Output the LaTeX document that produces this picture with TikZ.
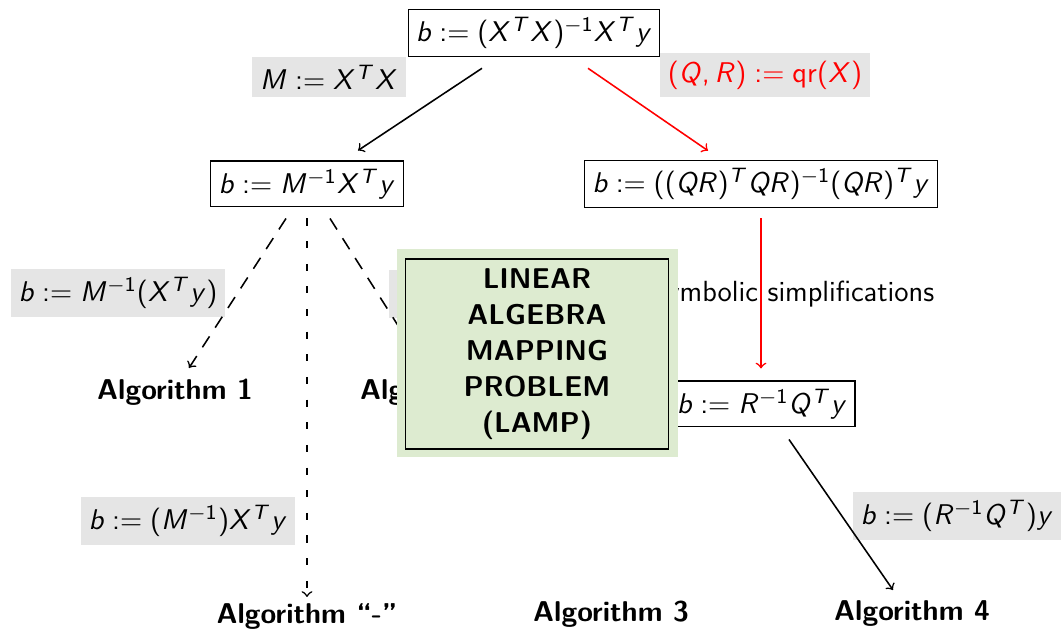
\documentclass[tikz,border=0pt]{standalone}
\usetikzlibrary{calc}
\DeclareSymbolFont{sfletters}{OT1}{cmss}{m}{sl}
\DeclareSymbolFont{sfupright}{OT1}{cmss}{m}{n}
\makeatletter
\count@=`a
\loop \mathcode\count@=\numexpr"7000+\symsfletters*256+\count@\relax
  \ifnum\count@<`z \advance\count@ 1 \repeat
\count@=`A
\loop \mathcode\count@=\numexpr"7000+\symsfletters*256+\count@\relax
  \ifnum\count@<`Z \advance\count@ 1 \repeat
\count@=`0
\loop \mathcode\count@=\numexpr"7000+\symsfupright*256+\count@\relax
  \ifnum\count@<`9 \advance\count@ 1 \repeat
\mathcode`(=\numexpr"4000+\symsfupright*256+`(\relax
\mathcode`)=\numexpr"5000+\symsfupright*256+`)\relax
\mathcode`==\numexpr"3000+\symsfupright*256+`=\relax
\mathcode`:=\numexpr"3000+\symsfupright*256+`:\relax
\mathcode`,=\numexpr"6000+\symsfupright*256+`,\relax
\makeatother
\definecolor{lampgreen}{RGB}{221,235,208}
\definecolor{lblgray}{RGB}{229,229,229}
\begin{document}
\begin{tikzpicture}[x=0.0135cm, y=-0.0135cm,
    every node/.style={font=\fontsize{11.1}{13.3}\selectfont\sffamily},
    expr/.style={draw, inner sep=3pt},
    lbl/.style={fill=lblgray, inner sep=3pt},
    alg/.style={font=\fontsize{11}{13.2}\selectfont\sffamily\bfseries},
    lampbg/.style={fill=lampgreen, minimum width=107.9pt, minimum height=79.9pt},
    lamp/.style={draw, align=center, inner sep=0pt, minimum width=101.4pt, minimum height=73pt, font=\fontsize{11}{13.8}\selectfont\sffamily\bfseries},
    conn/.style={->, semithick},
    dashlong/.style={dash pattern=on 5pt off 4pt},
    dashshort/.style={dash pattern=on 2.7pt off 6pt}
]
\useasboundingbox (0,0) rectangle (1063,631);
% expressions
\node[expr] (top) at (534,33) {$b := (X^TX)^{-1}X^Ty$};
\node[expr] (mx) at (307,184) {$b := M^{-1}X^Ty$};
\node[expr] (qr) at (761,184) {$b := ((QR)^TQR)^{-1}(QR)^Ty$};
\node[expr] (rq) at (762,404) {$b := R^{-1}Q^Ty$};
% algorithms
\node[alg] (alg1) at (175,392) {Algorithm 1};
\node[alg] (alg2) at (438,392) {Algorithm 2};
\node[alg] (algx) at (307,617) {Algorithm ``-''};
\node[alg] (alg3) at (611,614) {Algorithm 3};
\node[alg] (alg4) at (912,614) {Algorithm 4};
% edge labels
\node[lbl] (lmx) at (329,77) {$M := X^TX$};
\node[lbl, text=red] (lqr) at (765,75) {$(Q,R) := \mathsf{qr}(X)$};
\node[lbl] (l1) at (118,293) {$b := M^{-1}(X^Ty)$};
\node[lbl, minimum width=61pt, minimum height=18.4pt] (l2) at (468,294) {};
\node[lbl] (lx) at (188,521) {$b := (M^{-1})X^Ty$};
\node[font=\fontsize{11.2}{13.4}\selectfont\sffamily] (lsym) at (795,294) {symbolic simplifications};
\node[lbl] (l4) at (957,516) {$b := (R^{-1}Q^T)y$};
% arrows
\draw[conn] ($(top.south)+(-52,11)$) -- ($(mx.north)+(51,-10)$);
\draw[conn, red] ($(top.south)+(54,11)$) -- ($(qr.north)+(-53,-9)$);
\draw[conn, dashlong] ($(mx.south)+(-21,11)$) -- ($(alg1)+(14,-24)$);
\draw[conn, dashshort] ($(mx.south)+(0,11)$) -- ($(algx)+(0,-20)$);
\draw[conn, dashlong] ($(mx.south)+(23,11)$) -- ($(alg2)+(-13,-24)$);
\draw[conn, red] ($(qr.south)+(0,10)$) -- ($(rq.north)+(-1,-12)$);
\draw[conn] ($(rq.south)+(27,12)$) -- ($(alg4)+(-19,-24)$);
% overlay
\node[lampbg] (lampbg) at (537.5,353) {};
\node[lamp] (lamp) at (537,354) {LINEAR\\ALGEBRA\\MAPPING\\PROBLEM\\(LAMP)};
\end{tikzpicture}
\end{document}
